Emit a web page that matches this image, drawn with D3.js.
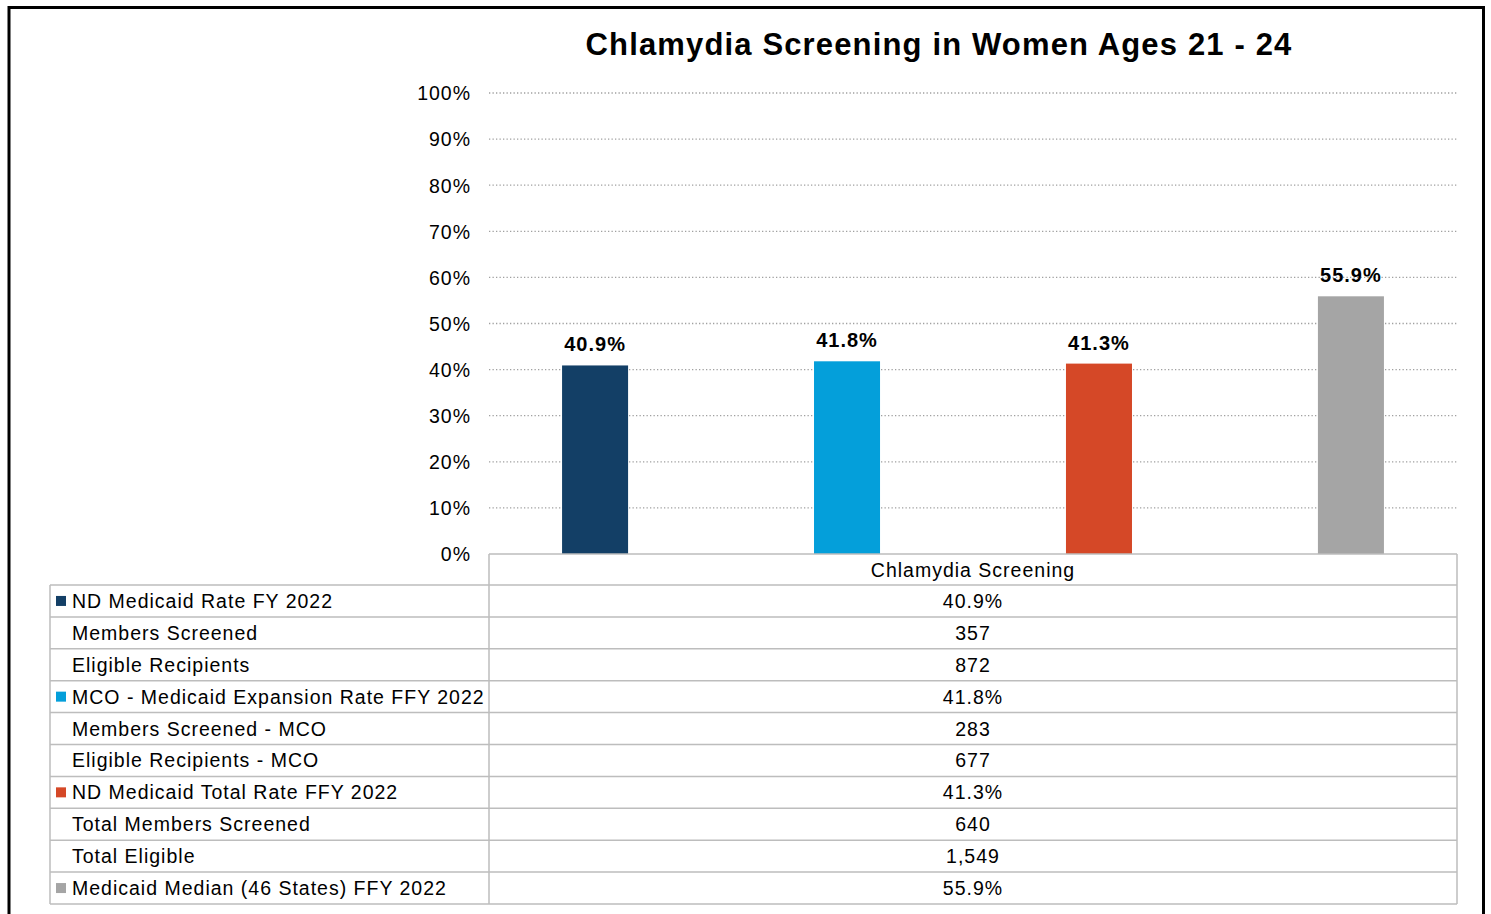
<!DOCTYPE html>
<html><head><meta charset="utf-8">
<script src="https://cdn.jsdelivr.net/npm/d3@7"></script>
<style>body{margin:0;background:#fff}svg{display:block;font-family:"Liberation Sans",Arial,sans-serif}</style>
</head><body><svg id="c" width="1491" height="914"></svg>
<script>
const title = "Chlamydia Screening in Women Ages 21 - 24";
const category = "Chlamydia Screening";
const seriesNames = ["ND Medicaid Rate FY 2022","MCO - Medicaid Expansion Rate FFY 2022","ND Medicaid Total Rate FFY 2022","Medicaid Median (46 States) FFY 2022"];
const seriesValues = [40.9, 41.8, 41.3, 55.9];
const seriesColors = ["#133F66","#049FDA","#D54827","#A5A5A5"];
const yTicks = [0,10,20,30,40,50,60,70,80,90,100];
const tableRows = [
  {label:"ND Medicaid Rate FY 2022", value:"40.9%", series:0},
  {label:"Members Screened", value:"357", series:null},
  {label:"Eligible Recipients", value:"872", series:null},
  {label:"MCO - Medicaid Expansion Rate FFY 2022", value:"41.8%", series:1},
  {label:"Members Screened - MCO", value:"283", series:null},
  {label:"Eligible Recipients - MCO", value:"677", series:null},
  {label:"ND Medicaid Total Rate FFY 2022", value:"41.3%", series:2},
  {label:"Total Members Screened", value:"640", series:null},
  {label:"Total Eligible", value:"1,549", series:null},
  {label:"Medicaid Median (46 States) FFY 2022", value:"55.9%", series:3}
];

const svg = d3.select("#c");
const L = 489, R = 1457, T = 93, B = 554;
const tableLeft = 50, headerH = 31, rowH = 31.9;
const LS = "1px";

svg.append("rect").attr("x",9).attr("y",7.5).attr("width",1474.5).attr("height",920)
  .attr("fill","none").attr("stroke","#000").attr("stroke-width",3);

svg.append("text").attr("x",939).attr("y",55).attr("text-anchor","middle")
  .attr("font-size",31).attr("font-weight","bold").attr("fill","#000")
  .attr("letter-spacing","1.15px").text(title);

const y = d3.scaleLinear().domain([0,100]).range([B,T]);
const x = d3.scaleBand().domain(d3.range(seriesNames.length)).range([L,R]).paddingInner(0.738).paddingOuter(0.29);

svg.append("g").selectAll("line").data(yTicks.filter(t=>t>0)).join("line")
  .attr("x1",L).attr("x2",R).attr("y1",d=>y(d)).attr("y2",d=>y(d))
  .attr("stroke","#A0A0A0").attr("stroke-width",1.3).attr("stroke-dasharray","1.3,2.2");

const yAxis = d3.axisLeft(y).tickValues(yTicks).tickFormat(d=>d+"%").tickSize(0).tickPadding(0);
const ya = svg.append("g").attr("transform",`translate(${471},0)`).call(yAxis);
ya.select(".domain").remove();
ya.selectAll("text").attr("font-size",19.5).attr("fill","#000").attr("letter-spacing",LS)
  .attr("font-family","Liberation Sans, Arial, sans-serif").attr("dy","0.35em");

svg.append("g").selectAll("rect").data(seriesValues).join("rect")
  .attr("x",(d,i)=>x(i)).attr("width",x.bandwidth())
  .attr("y",d=>y(d)).attr("height",d=>B-y(d)).attr("fill",(d,i)=>seriesColors[i]);

svg.append("g").selectAll("text").data(seriesValues).join("text")
  .attr("x",(d,i)=>x(i)+x.bandwidth()/2).attr("y",d=>y(d)-14)
  .attr("text-anchor","middle").attr("font-size",20).attr("font-weight","bold").attr("fill","#000")
  .attr("letter-spacing","1px")
  .text(d=>d.toFixed(1)+"%");

const tg = svg.append("g");
const gridC = "#BDBDBD";
const tableBottom = B + headerH + rowH*tableRows.length;
tg.append("line").attr("x1",L).attr("x2",R).attr("y1",B).attr("y2",B).attr("stroke",gridC).attr("stroke-width",1.5);
tg.append("line").attr("x1",L).attr("x2",L).attr("y1",B).attr("y2",tableBottom).attr("stroke",gridC).attr("stroke-width",1.5);
tg.append("line").attr("x1",R).attr("x2",R).attr("y1",B).attr("y2",tableBottom).attr("stroke",gridC).attr("stroke-width",1.5);
tg.append("line").attr("x1",tableLeft).attr("x2",tableLeft).attr("y1",B+headerH).attr("y2",tableBottom).attr("stroke",gridC).attr("stroke-width",1.5);
tg.append("text").attr("x",(L+R)/2).attr("y",B+headerH/2).attr("dy","0.36em").attr("text-anchor","middle")
  .attr("font-size",19.5).attr("fill","#000").attr("letter-spacing",LS).text(category);
tableRows.forEach((r,i)=>{
  const y0 = B + headerH + rowH*i;
  tg.append("line").attr("x1",tableLeft).attr("x2",R).attr("y1",y0).attr("y2",y0).attr("stroke",gridC).attr("stroke-width",1.5);
  if (r.series!==null) tg.append("rect").attr("x",56).attr("y",y0+rowH/2-5).attr("width",10).attr("height",10).attr("fill",seriesColors[r.series]);
  tg.append("text").attr("x",72).attr("y",y0+rowH/2).attr("dy","0.36em").attr("font-size",19.5).attr("fill","#000").attr("letter-spacing",LS).text(r.label);
  tg.append("text").attr("x",(L+R)/2).attr("y",y0+rowH/2).attr("dy","0.36em").attr("text-anchor","middle").attr("font-size",19.5).attr("fill","#000").attr("letter-spacing",LS).text(r.value);
});
tg.append("line").attr("x1",tableLeft).attr("x2",R).attr("y1",tableBottom).attr("y2",tableBottom).attr("stroke",gridC).attr("stroke-width",1.5);
</script></body></html>
